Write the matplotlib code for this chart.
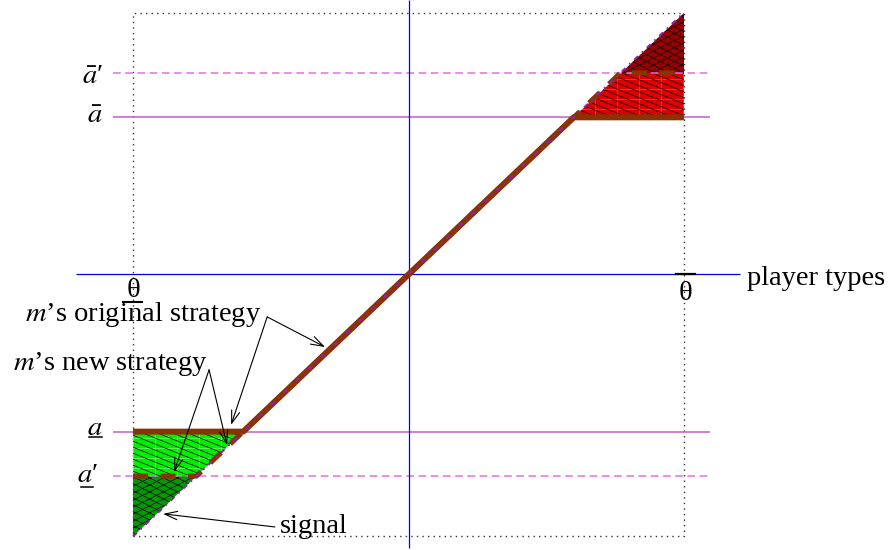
import numpy as np
import matplotlib.pyplot as plt
from matplotlib.patches import Polygon
from matplotlib.collections import LineCollection

plt.rcParams["font.family"] = ["Liberation Serif", "DejaVu Serif"]
plt.rcParams["mathtext.fontset"] = "stix"

# player type range and action thresholds (a = theta on the diagonal)
theta_lo, theta_hi = -1.0, 1.0
a_lo, a_hi = -0.6, 0.6
a_lo_new, a_hi_new = -0.77, 0.77

# strategies: flat below a_lo, follow the signal, flat above a_hi
orig_x = [theta_lo, a_lo, a_hi, theta_hi]
orig_y = [a_lo, a_lo, a_hi, a_hi]
new_x = [theta_lo, a_lo_new, a_hi_new, theta_hi]
new_y = [a_lo_new, a_lo_new, a_hi_new, a_hi_new]
signal_x = [theta_lo, theta_hi]
signal_y = [theta_lo, theta_hi]

brown = "#8a3200"
XS, YS = 275.5, 262.0  # pixels per data unit

fig = plt.figure(figsize=(8.9, 5.5), dpi=100)
ax = fig.add_axes([0, 0, 1, 1])
ax.set_xlim(-1.483, 1.748)
ax.set_ylim(-1.052, 1.048)
ax.axis("off")


def hatch(poly, slope, step, color, lw=0.5):
    # slope and step given in pixels
    s = slope * XS / YS
    xs = np.array([-2.0, 2.0])
    segs = [np.column_stack([xs, c + s * xs]) for c in np.arange(-2.5, 2.5, step / YS)]
    lc = LineCollection(segs, colors=color, linewidths=lw, zorder=1.2)
    ax.add_collection(lc)
    lc.set_clip_path(poly)


def grid(poly, dx, dy, color):
    segs = [[(x, -2), (x, 2)] for x in np.arange(theta_lo, 2, dx / XS)]
    segs += [[(-2, y), (2, y)] for y in np.arange(-2, 2, dy / YS)]
    lc = LineCollection(segs, colors=color, linewidths=0.5, zorder=1.1)
    ax.add_collection(lc)
    lc.set_clip_path(poly)


def region(xs, ys, face, gridc, light):
    p = Polygon(np.column_stack([xs, ys]), closed=True, facecolor=face,
                edgecolor="none", zorder=1)
    ax.add_patch(p)
    if light:
        grid(p, 22, 10, gridc)
        hatch(p, -0.4, 6, "black")
    else:
        hatch(p, 0.5, 7, "black")
        hatch(p, -0.5, 7, "black")


# shaded regions
region([a_hi, theta_hi, theta_hi, a_hi_new], [a_hi, a_hi, a_hi_new, a_hi_new],
       "#dd0000", "#f04848", True)
region([a_hi_new, theta_hi, theta_hi], [a_hi_new, a_hi_new, theta_hi],
       "#9a0000", None, False)
region([theta_lo, a_lo, a_lo_new, theta_lo], [a_lo, a_lo, a_lo_new, a_lo_new],
       "#00ee00", "#70ff70", True)
region([theta_lo, a_lo_new, theta_lo], [a_lo_new, a_lo_new, theta_lo],
       "#009a00", None, False)

# dotted box
ax.plot([theta_lo, theta_hi, theta_hi, theta_lo, theta_lo],
        [theta_lo, theta_lo, theta_hi, theta_hi, theta_lo],
        color="#333333", lw=1, ls=(0, (1, 3)), zorder=0.5)

# threshold lines
ax.hlines([a_lo, a_hi], -1.073, 1.094, color="#c060c8", lw=1.1, zorder=2)
ax.hlines([a_lo_new, a_hi_new], -1.073, 1.094, color="#e070e0", lw=1.1,
          linestyles=[(0, (5, 3))], zorder=2)

# axes
ax.hlines(0, -1.207, 1.203, color="#0000ff", lw=0.9, zorder=2)
ax.vlines(0, -1.044, 1.048, color="#0000ff", lw=0.9, zorder=2)

# strategies and signal
ax.plot(orig_x, orig_y, color=brown, lw=4.3, solid_capstyle="butt", zorder=3)
ax.plot(new_x, new_y, color=brown, lw=3.6, ls=(0, (3, 2.5)),
        dash_capstyle="butt", zorder=3.1)
ax.plot(signal_x, signal_y, color="#9020b0", lw=1.5, ls=(0, (2.5, 2.5, 0.8, 2.5)),
        zorder=4)

fs = 20.5

# axis labels
ax.text(theta_lo, -0.086, "θ", ha="center", va="baseline", fontsize=fs)
ax.plot([theta_lo - 0.036, theta_lo + 0.033], [-0.104, -0.104], color="black", lw=1.5)
ax.text(theta_hi + 0.004, -0.097, "θ", ha="center", va="baseline", fontsize=fs)
ax.plot([theta_hi - 0.03, theta_hi + 0.04], [0.003, 0.003], color="black", lw=1.6, zorder=5)
ax.text(1.228, -0.040, "player types", ha="left", va="baseline", fontsize=fs)

ax.text(-1.109, 0.731, r"$\bar{a}$′", ha="right", va="baseline", fontsize=fs)
ax.text(-1.112, 0.578, r"$\bar{a}$", ha="right", va="baseline", fontsize=fs)
ax.text(-1.112, -0.613, r"$a$", ha="right", va="baseline", fontsize=fs)
ax.plot([-1.160, -1.113], [-0.622, -0.622], color="black", lw=1.1)
ax.text(-1.127, -0.792, r"$a$′", ha="right", va="baseline", fontsize=fs)
ax.plot([-1.189, -1.145], [-0.813, -0.813], color="black", lw=1.1)

# annotations
ax.text(-1.392, -0.178, r"$m$’s original strategy", ha="left", va="baseline", fontsize=fs)
ax.text(-1.436, -0.364, r"$m$’s new strategy", ha="left", va="baseline", fontsize=fs)
ax.text(-0.466, -0.987, "signal", ha="left", va="baseline", fontsize=fs)

arrow = dict(arrowstyle="->,head_length=0.45,head_width=0.15", lw=0.8,
             color="black", shrinkA=0, shrinkB=0, mutation_scale=20)
for tip in [(-0.303, -0.277), (-0.644, -0.574)]:
    ax.annotate("", xy=tip, xytext=(-0.513, -0.162), arrowprops=arrow, zorder=6)
for tip in [(-0.851, -0.754), (-0.659, -0.651)]:
    ax.annotate("", xy=tip, xytext=(-0.724, -0.364), arrowprops=arrow, zorder=6)
ax.annotate("", xy=(-0.891, -0.914), xytext=(-0.485, -0.964), arrowprops=arrow, zorder=6)

plt.savefig("out.png", dpi=100)
plt.close()
